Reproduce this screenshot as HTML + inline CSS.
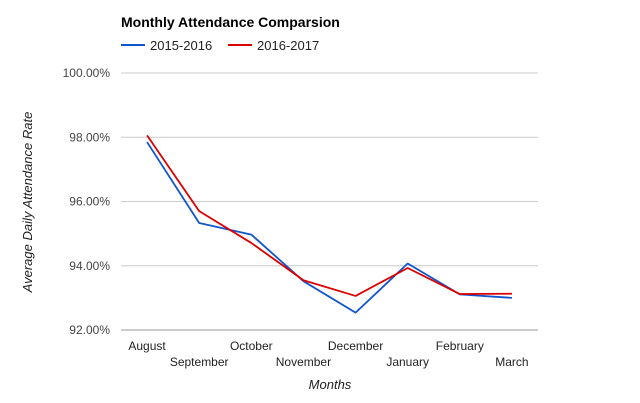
<!DOCTYPE html>
<html><head><meta charset="utf-8"><style>
body{margin:0;background:#fff;}
svg{display:block;font-family:"Liberation Sans",Arial,sans-serif;}
</style></head><body>
<svg id="chart" width="640" height="403">
<rect width="640" height="403" fill="#fff"/>
<text x="121" y="27" font-size="14" font-weight="bold" fill="#000">Monthly Attendance Comparsion</text>
<g>
<g><line x1="121" y1="45" x2="145" y2="45" stroke="#1155cc" stroke-width="2"/><text x="150" y="50" font-size="13" fill="#222">2015-2016</text></g>
<g><line x1="228" y1="45" x2="252" y2="45" stroke="#dd0000" stroke-width="2"/><text x="257" y="50" font-size="13" fill="#222">2016-2017</text></g>
</g>
<g id="grid"></g><g id="xl"></g><g id="lines"></g>
<text transform="translate(32,202) rotate(-90)" text-anchor="middle" font-size="13" font-style="italic" fill="#222">Average Daily Attendance Rate</text>
<text x="330" y="389" text-anchor="middle" font-size="13" font-style="italic" fill="#222">Months</text>
</svg>
<script>
const categories=["August","September","October","November","December","January","February","March"];
const series2015=[97.85,95.33,94.97,93.52,92.54,94.07,93.11,93.00];
const series2016=[98.06,95.70,94.71,93.55,93.06,93.93,93.12,93.13];
const yTicks=[92,94,96,98,100];
const yTickLabels=["92.00%","94.00%","96.00%","98.00%","100.00%"];
const NS="http://www.w3.org/2000/svg";
const L=121,R=538,T=73,B=330,yMin=92,yMax=100;
const y=v=>B-(v-yMin)/(yMax-yMin)*(B-T);
const step=(R-L)/categories.length;
const x=i=>L+step*(i+0.5);
function mk(t,a,p){const e=document.createElementNS(NS,t);for(const k in a)e.setAttribute(k,a[k]);p.appendChild(e);return e;}
const g=document.getElementById('grid');
yTicks.forEach((v,i)=>{
 const ln=mk('line',{x1:L,x2:R,y1:y(v),y2:y(v),stroke:i===0?'#999':'#ccc','stroke-width':1},g);
 
 
 const t=mk('text',{x:110,y:y(v)+4,'text-anchor':'end','font-size':12,fill:'#444'},g);
 t.textContent=yTickLabels[i];
 
 
});
const xl=document.getElementById('xl');
categories.forEach((c,i)=>{
 const t=mk('text',{x:x(i),y:i%2===0?350:366,'text-anchor':'middle','font-size':12,fill:'#222'},xl);
 t.textContent=c;
 
 
});
const lg=document.getElementById('lines');
[[series2015,'#1155cc','line-2015-2016'],[series2016,'#dd0000','line-2016-2017']].forEach(([s,col,n])=>{
 const p=mk('polyline',{points:s.map((v,i)=>x(i)+','+y(v)).join(' '),fill:'none',stroke:col,'stroke-width':1.8,'stroke-linejoin':'round'},lg);
 
 
});
</script>
</body></html>
